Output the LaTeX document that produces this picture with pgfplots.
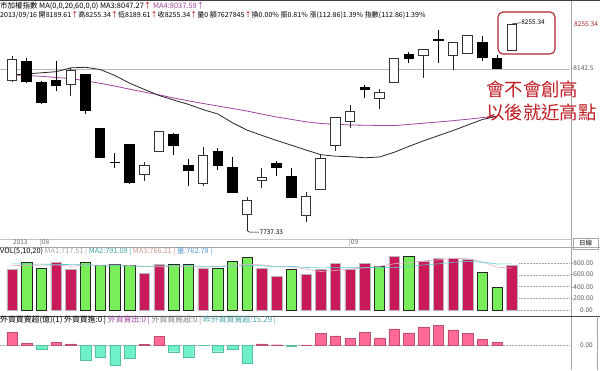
\documentclass[border=0pt]{standalone}
\usepackage{pgfplots}
\pgfplotsset{compat=1.18}
\usepackage{pgfplotstable}
\usepackage{fontspec}
\setmainfont{Noto Sans CJK TC}
\newfontfamily\cjk{Noto Sans CJK TC}
\newcommand{\hdr}{\cjk\fontsize{7.1}{8}\selectfont}
\newcommand{\sml}{\cjk\fontsize{6.5}{7.5}\selectfont}
\newcommand{\rgt}{\cjk\fontsize{6.6}{7.5}\selectfont}

\definecolor{volred}{RGB}{200,25,90}
\definecolor{volgreen}{RGB}{120,238,90}
\definecolor{fpink}{RGB}{255,105,150}
\definecolor{faqua}{RGB}{110,240,200}
\definecolor{mafour}{RGB}{160,70,160}
\definecolor{boxred}{RGB}{175,35,45}
\definecolor{anntext}{RGB}{192,28,36}
\definecolor{macyan}{RGB}{90,205,205}
\definecolor{maone}{RGB}{225,170,190}

% hollow (up) candles: i open high low close
\pgfplotstableread{
i o h l c
1 8114.9 8175.8 8109.2 8165.1
5 8104.1 8145.8 8075.6 8138.2
10 7876.8 7910.1 7861.7 7901.8
11 7935.2 7988.0 7934.0 7987.1
14 7854.2 7947.7 7849.9 7924.4
17 7778.2 7822.4 7737.33 7814.1
18 7863.5 7893.6 7844.9 7871.0
21 7774.7 7833.4 7759.7 7822.4
22 7840.9 7928.7 7840.0 7916.9
23 7949.5 8022.0 7936.9 8021.4
24 8010.4 8052.2 7995.3 8037.2
26 8069.0 8092.4 8042.2 8083.1
27 8109.2 8170.0 8108.0 8169.3
29 8177.6 8193.0 8119.2 8192.6
31 8175.8 8210.0 8140.0 8209.4
32 8181.9 8227.7 8180.1 8226.0
35 8189.61 8255.34 8189.61 8255.34
}\upc

% filled (down) candles
\pgfplotstableread{
i o h l c
2 8162.6 8170.8 8107.0 8109.2
3 8109.2 8112.4 8054.0 8056.5
4 8114.9 8162.6 8087.3 8100.6
6 8130.0 8131.0 8028.9 8038.0
7 7993.8 7994.5 7919.0 7920.1
8 7909.8 7932.7 7893.6 7907.4
9 7954.5 7955.5 7854.0 7855.9
12 7979.5 7981.3 7926.9 7950.2
13 7901.8 7916.1 7849.9 7886.8
15 7936.9 7943.7 7889.3 7900.1
16 7896.1 7922.6 7830.9 7832.4
19 7906.1 7911.9 7875.0 7895.1
20 7875.0 7893.6 7819.0 7819.8
25 8098.1 8102.4 8069.0 8090.6
28 8180.1 8184.4 8156.8 8166.8
30 8217.0 8240.3 8156.8 8212.7
33 8209.4 8226.0 8163.3 8170.8
34 8169.3 8177.6 8142.0 8142.5
}\downc

% MA3 (20) black line
\pgfplotstableread{
i v
1 8127.5
2 8130.2
3 8133.0
4 8135.7
5 8145.3
6 8146.8
7 8141.2
8 8126.2
9 8106.9
10 8091.4
11 8076.1
12 8064.8
13 8053.8
14 8040.7
15 8029.7
16 8007.6
17 7989.1
18 7976.0
19 7963.3
20 7951.5
21 7939.4
22 7927.7
23 7923.9
24 7922.6
25 7919.9
26 7921.9
27 7933.7
28 7948.5
29 7962.5
30 7975.3
31 7988.1
32 8002.1
33 8015.9
34 8024.0
}\mathree

% MA4 (60) purple line
\pgfplotstableread{
i v
1 8127.5
2 8126.2
3 8124.2
4 8121.2
5 8118.4
6 8112.9
7 8106.6
8 8099.6
9 8091.9
10 8084.6
11 8077.8
12 8069.8
13 8062.8
14 8056.0
15 8049.7
16 8043.5
17 8037.0
18 8029.4
19 8022.2
20 8016.2
21 8010.1
22 8005.9
23 8004.1
24 8002.1
25 8001.6
26 8000.9
27 8000.6
28 8003.6
29 8006.6
30 8009.6
31 8012.9
32 8016.6
33 8020.7
34 8024.0
}\mafourt

% volume
\pgfplotstableread{
i v
1 696
4 820
5 701
10 627
11 781
14 713
18 713
19 570
21 616
22 701
23 804
24 696
25 798
27 923
29 838
30 878
31 884
32 872
35 762.78
}\volup
\pgfplotstableread{
i v
2 809
3 718
6 809
7 764
8 775
9 758
12 775
13 775
15 706
16 826
17 901
20 696
26 741
28 912
33 650
34 388
}\voldn
\pgfplotstableread{
i v
1 760
2 765
3 768
4 772
5 748.8
6 771.4
7 762.4
8 773.8
9 761.4
10 746.6
11 741
12 743.2
13 743.2
14 734.2
15 750
16 759
17 784.2
18 771.8
19 743.2
20 741.2
21 699.2
22 659.2
23 677.4
24 702.6
25 723
26 748
27 792.4
28 814
29 842.4
30 858.4
31 887
32 876.8
33 824.4
34 734.4
35 717.51
}\volmaone
\pgfplotstableread{
i v
1 790
2 788
3 785
4 782
5 778
6 772
7 768
8 762
9 755
10 747.7
11 756.2
12 752.8
13 758.5
14 747.8
15 748.3
16 750
17 763.7
18 757.5
19 738.7
20 745.6
21 729.1
22 721.7
23 724.6
24 722.9
25 732.1
26 723.6
27 725.8
28 745.7
29 772.5
30 790.7
31 817.5
32 834.6
33 819.2
34 788.4
35 791.09
}\volmatwo

% foreign net buy/sell
\pgfplotstableread{
i v
1 72
2 9.6
4 15
5 5.7
10 4
11 47
18 5.7
19 1.7
21 0.8
22 66
23 51
24 38
25 72
26 41
27 91
28 68
29 102
30 113
31 85
32 64
33 32
34 15.29
}\fpos
\pgfplotstableread{
i v
3 -24
6 -85
7 -70
8 -113
9 -75
12 -38
13 -70
14 -0.8
15 -38
16 -23
17 -104
20 -7.4
}\fneg

\begin{document}
\begin{tikzpicture}[x=1bp,y=1bp]
\fill[white] (0,0) rectangle (600,370);

% ---------- main price panel ----------
\begin{axis}[at={(0bp,133bp)}, anchor=south west, scale only axis,
  width=570bp, height=218bp,
  xmin=0.18367, xmax=38.959, ymin=7721.3, ymax=8267.85,
  hide axis, clip=false]
\addplot[gray!55, line width=0.6bp] coordinates {(0.18367,8142.5) (38.959,8142.5)};
\addplot[mafour, line width=0.8bp] table[x=i,y=v]{\mafourt};
\addplot[black!85, line width=0.8bp] table[x=i,y=v]{\mathree};
% wicks
\addplot[draw=none, mark=none, error bars/.cd, y dir=both, y explicit, error mark=none,
  error bar style={draw=black!85, line width=1bp}]
  table[x=i, y expr={(\thisrow{h}+\thisrow{l})/2}, y error expr={(\thisrow{h}-\thisrow{l})/2}]{\upc};
\addplot[draw=none, mark=none, error bars/.cd, y dir=both, y explicit, error mark=none,
  error bar style={draw=black, line width=1bp}]
  table[x=i, y expr={(\thisrow{h}+\thisrow{l})/2}, y error expr={(\thisrow{h}-\thisrow{l})/2}]{\downc};
% filled bodies
\addplot[draw=none, mark=none, error bars/.cd, y dir=both, y explicit, error mark=none,
  error bar style={draw=black, line width=10.5bp}]
  table[x=i, y expr={(\thisrow{o}+\thisrow{c})/2}, y error expr={(\thisrow{o}-\thisrow{c})/2}]{\downc};
% hollow bodies: white fill with top and bottom edges
\addplot[draw=none, mark=none, error bars/.cd, y dir=both, y explicit, error mark=|,
  error bar style={draw=white, line width=10bp},
  error mark options={draw=black!80, line width=1bp, mark size=5.25bp}]
  table[x=i, y expr={(\thisrow{o}+\thisrow{c})/2}, y error expr={(\thisrow{c}-\thisrow{o})/2}]{\upc};
% hollow bodies: left and right edges
\addplot[draw=none, mark=none, error bars/.cd, y dir=both, y explicit, error mark=none,
  error bar style={draw=black!80, line width=1bp}]
  table[x expr={\thisrow{i}-0.323}, y expr={(\thisrow{o}+\thisrow{c})/2}, y error expr={(\thisrow{c}-\thisrow{o})/2}]{\upc};
\addplot[draw=none, mark=none, error bars/.cd, y dir=both, y explicit, error mark=none,
  error bar style={draw=black!80, line width=1bp}]
  table[x expr={\thisrow{i}+0.323}, y expr={(\thisrow{o}+\thisrow{c})/2}, y error expr={(\thisrow{c}-\thisrow{o})/2}]{\upc};
% annotations
\draw[black, line width=0.5bp] (axis cs:17,7737.33) -- (axis cs:17.15,7733.5) -- (axis cs:17.8,7733.5);
\node[anchor=west, inner sep=0.5bp, font=\sml] at (axis cs:17.8,7733.5) {7737.33};
\draw[black, line width=0.5bp] (axis cs:35,8255.34) -- (axis cs:35.6,8258.5);
\node[anchor=west, inner sep=0.5bp, font=\sml] at (axis cs:35.6,8259.5) {8255.34};
\end{axis}

% ---------- volume panel ----------
\begin{axis}[at={(0bp,56bp)}, anchor=south west, scale only axis,
  width=570bp, height=67bp,
  xmin=0.18367, xmax=38.959, ymin=-68.5, ymax=1079.2,
  hide axis, clip=false]
\foreach \v in {0,200,400,600,800} {
  \edef\tmp{\noexpand\draw[gray!70, densely dotted, line width=0.5bp] (axis cs:35.5,\v) -- (axis cs:38.959,\v);}
  \tmp
}
\addplot[ybar, bar width=10.5bp, bar shift=0pt, fill=volred, draw=gray!55, line width=0.5bp] table[x=i,y=v]{\volup};
\addplot[ybar, bar width=10.5bp, bar shift=0pt, fill=volgreen, draw=black!85, line width=0.7bp] table[x=i,y=v]{\voldn};
\addplot[maone, line width=0.6bp] table[x=i,y=v]{\volmaone};
\addplot[macyan, line width=0.6bp] table[x=i,y=v]{\volmatwo};
\end{axis}

% ---------- foreign investors panel ----------
\begin{axis}[at={(0bp,0bp)}, anchor=south west, scale only axis,
  width=570bp, height=54bp,
  xmin=0.18367, xmax=38.959, ymin=-141.5, ymax=164.1,
  hide axis, clip=false]
\draw[gray!70, densely dotted, line width=0.5bp] (axis cs:0.18367,0) -- (axis cs:38.959,0);
\addplot[ybar, bar width=10.5bp, bar shift=0pt, fill=fpink, draw=fpink!75!black, line width=0.4bp] table[x=i,y=v]{\fpos};
\addplot[ybar, bar width=10.5bp, bar shift=0pt, fill=faqua, draw=faqua!80!black, line width=0.3bp] table[x=i,y=v]{\fneg};
\end{axis}

% ---------- frame lines ----------
\draw[black!75, line width=0.9bp] (0,369.4) -- (600,369.4);
\draw[gray!70, line width=0.6bp] (571,0) -- (571,369);
\draw[gray!45, line width=0.5bp] (0,131) -- (571,131);
\draw[gray!70, line width=0.6bp] (0,123) -- (600,123);
\draw[black!70, line width=1bp] (0,54) -- (600,54);
\draw[gray!70, line width=0.6bp] (597,0) -- (597,54);
\draw[gray!70, line width=0.6bp] (573,121) rectangle (598,132);

% ---------- header texts ----------
\node[anchor=west, inner sep=0] at (0,364.3) {\cjk\fontsize{7.5}{8}\selectfont 市加權指數 MA(0,0,20,60,0,0) MA3:8047.27\textcolor{red!70!black}{↑} \textcolor{mafour}{MA4:8037.59↑}};
\node[anchor=west, inner sep=0] at (0,355) {\hdr 2013/09/16 開8189.61\textcolor{red!70!black}{↑}高8255.34\textcolor{red!70!black}{↑}低8189.61\textcolor{red!70!black}{↑}收8255.34\textcolor{red!70!black}{↑}量0 額7627845\textcolor{red!70!black}{↑}換0.00\% 振0.81\% 漲(112.86)1.39\% 指數(112.86)1.39\%};
\node[anchor=west, inner sep=0] at (0,119) {\cjk\fontsize{7.35}{8}\selectfont VOL(5,10,20) \textcolor{gray!70}{MA1:717.51 |} \textcolor{macyan!80!black}{MA2:791.09 |} \textcolor{gray!60!red!60}{MA3:766.21 |} \textcolor{cyan!60!blue!70}{量:762.78 |}};
\node[anchor=west, inner sep=0] at (0,50) {\cjk\fontsize{7.9}{8.5}\selectfont 外資買賣超(億)(1) 外資買進:0 | \textcolor{mafour}{外資賣出:0 |} \textcolor{gray}{外資買賣超:0 |} \textcolor{macyan!80!black}{昨外資買賣超:15.29 |}};

% date axis labels
\node[anchor=west, inner sep=0, text=gray!80!black] at (13,127.5) {\sml 2013};
\node[anchor=west, inner sep=0, text=gray!80!black] at (40,127.5) {\sml |08};
\node[anchor=west, inner sep=0, text=gray!80!black] at (349,127.5) {\sml |09};
\node[anchor=center, inner sep=0] at (585.5,126.5) {\sml 日線};

% right axis labels
\node[anchor=west, inner sep=0, text=boxred] at (574,346) {\rgt 8255.34};
\node[anchor=west, inner sep=0, text=gray!70!black] at (571,302) {\rgt -8142.5};
\node[anchor=west, inner sep=0, text=gray!70!black] at (571,107) {\sml -800.00};
\node[anchor=west, inner sep=0, text=gray!70!black] at (571,96) {\sml -600.00};
\node[anchor=west, inner sep=0, text=gray!70!black] at (571,83) {\sml -400.00};
\node[anchor=west, inner sep=0, text=gray!70!black] at (571,72) {\sml -200.00};
\node[anchor=west, inner sep=0, text=gray!70!black] at (580,60) {\sml 0.00};
\node[anchor=west, inner sep=0, text=gray!70!black] at (580,25) {\sml 0.00};

% highlight box and comment
\draw[boxred, line width=1.1bp, rounded corners=5bp] (498,316) rectangle (555,358);
\node[anchor=west, inner sep=0, text=anntext] at (486,281) {\cjk\fontsize{18.5}{20}\selectfont 會不會創高};
\node[anchor=west, inner sep=0, text=anntext] at (486,258) {\cjk\fontsize{18.5}{20}\selectfont 以後就近高點};

\pgfresetboundingbox
\useasboundingbox (0,0) rectangle (600,370);
\end{tikzpicture}
\end{document}
